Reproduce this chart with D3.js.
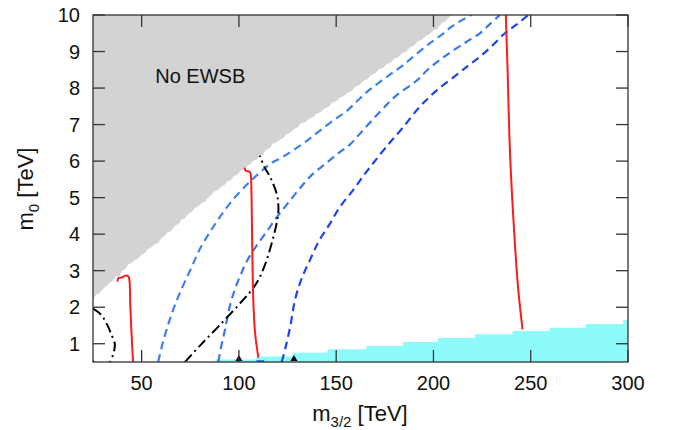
<!DOCTYPE html>
<html><head><meta charset="utf-8">
<script src="https://cdn.jsdelivr.net/npm/d3@7"></script>
<style>
body{margin:0;background:#fff}
svg{display:block}
text{font-family:"Liberation Sans",Arial,Helvetica,sans-serif;fill:#111}
</style>
</head><body><svg id="c" width="673" height="430"></svg>
<script>
// ---------- data ----------
const xTicks = [50, 100, 150, 200, 250, 300];
const yTicks = [1, 2, 3, 4, 5, 6, 7, 8, 9, 10];
const xDomain = [25, 300];
const yDomain = [0.5, 10];

// No EWSB boundary (m3/2, m0), ragged edge as in the scan
const grayBoundary = [[25,2.22],[27,2.36],[28.5,2.38],[30,2.50],[32,2.58],[33.5,2.66],[35,2.72],[37,2.86],[38.5,2.84],[40,3.00],[42,3.06],[43,3.16],[45,3.22],[46.5,3.30],[48,3.32],[50,3.44],[52,3.50],[53,3.58],[55,3.64],[57,3.74],[58.5,3.76],[60,3.88],[62,3.96],[63.5,4.06],[65,4.08],[67,4.22],[69,4.28],[70.5,4.40],[72,4.42],[74,4.56],[76,4.62],[77.5,4.72],[79,4.76],[81,4.86],[82.5,4.88],[84,5.00],[86,5.08],[87.5,5.18],[89,5.20],[91,5.30],[92.5,5.34],[94,5.44],[96,5.48],[97.5,5.60],[99,5.62],[101,5.74],[102.5,5.78],[104,5.86],[106,5.92],[107.5,6.02],[109,6.04],[111,6.14],[112.5,6.18],[114,6.32],[116,6.36],[117.5,6.48],[119,6.50],[121,6.58],[123,6.64],[124.5,6.74],[126,6.76],[128,6.86],[130,6.92],[132,7.04],[134,7.06],[136,7.16],[138,7.20],[140,7.30],[142,7.34],[144,7.44],[146,7.48],[148,7.60],[150,7.64],[152,7.74],[154,7.78],[156,7.88],[158,7.92],[160,8.04],[162,8.08],[164,8.20],[166,8.24],[168,8.36],[170,8.40],[172,8.52],[174,8.54],[176,8.66],[178,8.70],[180,8.80],[182,8.84],[184,8.96],[186,9.00],[188,9.12],[190,9.16],[192,9.28],[194,9.32],[196,9.42],[198,9.48],[200,9.58],[202,9.62],[204,9.76],[206,9.82],[208,9.94],[209.5,10]];

// cyan step region: left edges and heights
const cyanX = [88, 109, 127.6, 145.8, 165.6, 184.3, 202.3, 221.3, 240.7, 259.5, 278.3, 297.5, 300];
const cyanY = [0.57, 0.65, 0.75, 0.85, 0.94, 1.05, 1.16, 1.26, 1.35, 1.44, 1.54, 1.64, 1.66];

const red1 = [[37.6,2.70],[38.1,2.80],[39.5,2.81],[41,2.85],[42.3,2.87],[43.3,2.83],[43.8,2.70],[44.2,2.0],[44.9,1.2],[45.6,0.5]];
const red2 = [[103.0,5.82],[103.4,5.74],[104.6,5.72],[105.8,5.69],[106.2,5.58],[106.4,5.30],[107.4,2.20],[108.3,1.30],[110,0.62]];
const red3 = [[237.2,10],[238.1,8.5],[239.3,6.3],[241,4.5],[243.4,2.6],[245.8,1.39]];

const blue1 = [[58.5,0.5],[60.5,0.95],[62.9,1.4],[66,1.9],[69.7,2.4],[75.7,3.1],[80,3.6],[85,4.05],[90,4.45],[97,4.95],[104,5.35],[110,5.65],[116,5.92],[122,6.1],[128,6.3],[134.8,6.55],[142,6.85],[150,7.17],[155,7.35],[160.5,7.63],[166,7.9],[172.5,8.17],[179,8.42],[184.5,8.63],[191,8.92],[198,9.22],[204,9.45],[209.3,9.68],[214,9.84],[219.5,10]];
const blue2 = [[89.4,0.5],[91,0.95],[92.8,1.37],[95.2,2.0],[98,2.5],[101,2.9],[104,3.25],[108,3.6],[114,4.05],[120,4.5],[126,4.9],[132,5.3],[138,5.65],[145,5.95],[152,6.25],[157,6.45],[163,6.8],[172.5,7.35],[181,7.8],[191.3,8.2],[197,8.5],[203.3,8.77],[208,8.95],[213.6,9.15],[218,9.3],[223.9,9.5],[229,9.75],[234.1,10]];
const blue3 = [[122,0.5],[124,0.9],[126.5,1.5],[128.8,2.19],[132,2.75],[136.5,3.29],[141,3.8],[146.8,4.29],[152,4.75],[158.8,5.21],[164,5.6],[169,5.94],[175.9,6.4],[184,6.9],[193,7.49],[202,7.95],[211.9,8.36],[218,8.62],[223.9,8.86],[230,9.15],[236.7,9.5],[243,9.75],[248.7,10]];

const black1 = [[25,1.96],[29,1.80],[32,1.55],[34.5,1.25],[36.2,1.0],[36,0.85],[35,0.65],[33.7,0.5]];
const black2 = [[72.3,0.5],[80,0.95],[90,1.5],[102,2.19],[107,2.5],[110.8,2.83],[114,3.25],[116.8,3.74],[119,4.2],[120.2,4.56],[120.2,4.85],[119.4,5.11],[116,5.57],[113,5.85],[110.8,6.15]];

const blueBits = [[[25,0.5],[25.6,0.53]], [[109,0.51],[113,0.51]]];
const blackMarks = [[100,0.5],[128.3,0.5]];

// ---------- chart ----------
const svg = d3.select("#c");
const L = 93, R = 628, T = 15, B = 362;
const x = d3.scaleLinear().domain(xDomain).range([L, R]);
const y = d3.scaleLinear().domain(yDomain).range([B, T]);

svg.append("defs").append("clipPath").attr("id","clip")
  .append("rect").attr("x",L).attr("y",T).attr("width",R-L).attr("height",B-T);
const g = svg.append("g").attr("clip-path","url(#clip)");

// gray region
const grayPoly = [[xDomain[0], yDomain[1]], ...grayBoundary];
g.append("path")
  .attr("d", d3.line().x(d=>x(d[0])).y(d=>y(d[1]))(grayPoly) + "Z")
  .attr("fill", "#d3d3d3");

g.append("text").attr("x", x(57)).attr("y", y(8.13)).attr("font-size", 20).attr("fill","#222").text("No EWSB");

// cyan steps
const cyanData = cyanX.map((v,i)=>({x:v, y:cyanY[i]}));
g.append("path")
  .attr("d", d3.area().curve(d3.curveStepAfter).x(d=>x(d.x)).y0(y(yDomain[0])).y1(d=>y(d.y))(cyanData))
  .attr("fill", "#8efbfb");

const line = d3.line().x(d=>x(d[0])).y(d=>y(d[1])).curve(d3.curveCatmullRom.alpha(0.5));

function draw(data, color, w, dash){
  g.append("path").attr("d", line(data)).attr("fill","none")
    .attr("stroke", color).attr("stroke-width", w)
    .attr("stroke-dasharray", dash || null)
    .attr("stroke-linecap","butt").attr("stroke-linejoin","round");
}
draw(blue1, "#3f80f2", 2.2, "8,5");
draw(blue2, "#3a78ee", 2.2, "8,5");
draw(blue3, "#1f45e6", 2.2, "8,5");
draw(black1, "#000", 2, "10,4,2,4");
draw(black2, "#000", 2, "10,4,2,4");
draw(red1, "#ff1a1a", 2, null);
draw(red2, "#ff1a1a", 2, null);
draw(red3, "#ff1a1a", 2, null);
blueBits.forEach(b => draw(b, "#2a6cf0", 3, null));
blackMarks.forEach(m => {
  g.append("path").attr("d", d3.symbol().type(d3.symbolTriangle).size(22)())
    .attr("transform", `translate(${x(m[0])},${y(m[1])-3})`).attr("fill","#000");
});

// frame
svg.append("rect").attr("x",L).attr("y",T).attr("width",R-L).attr("height",B-T)
  .attr("fill","none").attr("stroke","#333").attr("stroke-width",1.3);

// ticks
const tk = 12;
const ax = svg.append("g").attr("stroke","#333").attr("stroke-width",1.3);
xTicks.forEach(v=>{
  ax.append("line").attr("x1",x(v)).attr("x2",x(v)).attr("y1",B).attr("y2",B-tk);
  ax.append("line").attr("x1",x(v)).attr("x2",x(v)).attr("y1",T).attr("y2",T+tk);
});
yTicks.forEach(v=>{
  ax.append("line").attr("x1",L).attr("x2",L+tk).attr("y1",y(v)).attr("y2",y(v));
  ax.append("line").attr("x1",R).attr("x2",R-tk).attr("y1",y(v)).attr("y2",y(v));
});

// tick labels
xTicks.forEach(v=>{
  svg.append("text").attr("x",x(v)).attr("y",390).attr("text-anchor","middle")
    .attr("font-size",20).text(v);
});
yTicks.forEach(v=>{
  svg.append("text").attr("x",80).attr("y",y(v)+7).attr("text-anchor","end")
    .attr("font-size",20).text(v);
});

// axis titles
const xt = svg.append("text").attr("x",360).attr("y",421).attr("text-anchor","middle").attr("font-size",22);
xt.append("tspan").text("m");
xt.append("tspan").attr("font-size",15).attr("dy",6).text("3/2");
xt.append("tspan").attr("dy",-6).text(" [TeV]");

const yt = svg.append("text").attr("transform","translate(33,189) rotate(-90)").attr("text-anchor","middle").attr("font-size",22);
yt.append("tspan").text("m");
yt.append("tspan").attr("font-size",15).attr("dy",6).text("0");
yt.append("tspan").attr("dy",-6).text(" [TeV]");
</script>
</body></html>
